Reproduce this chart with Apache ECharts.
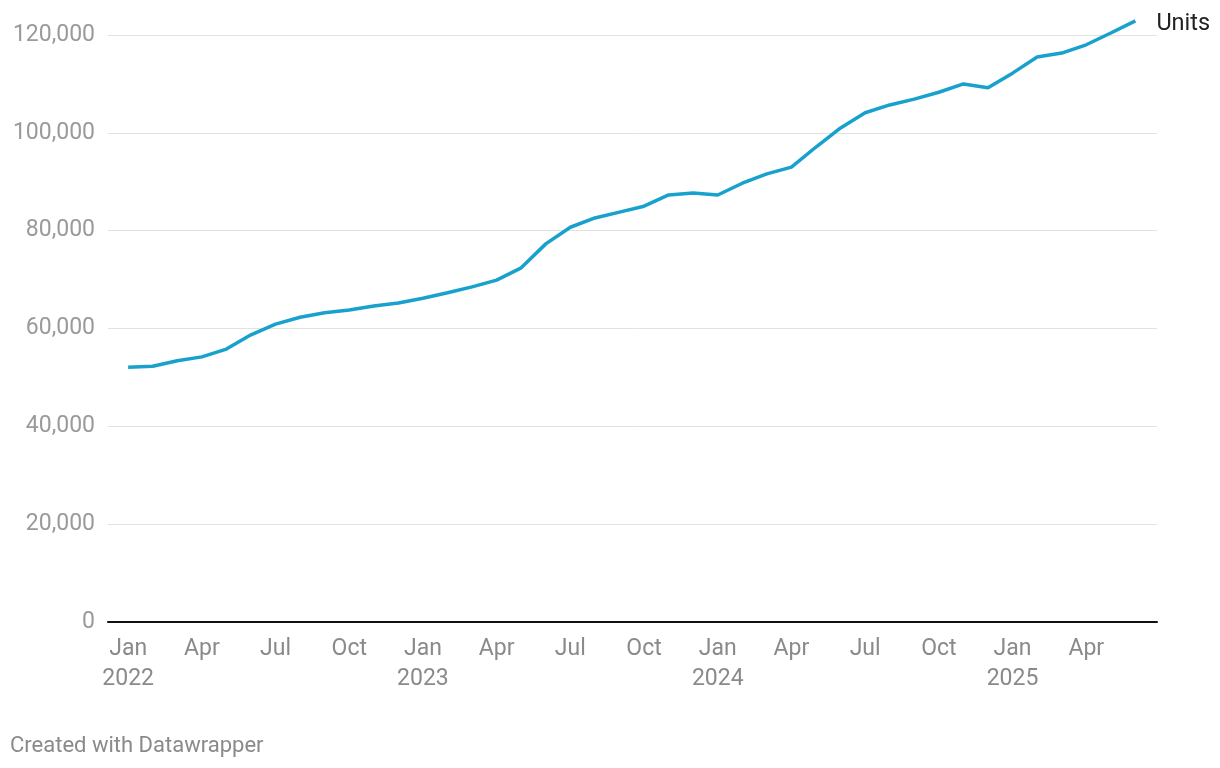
<!DOCTYPE html>
<html>
<head>
<meta charset="utf-8">
<script src="https://cdn.jsdelivr.net/npm/echarts@6/dist/echarts.min.js"></script>
<style>
html,body{margin:0;padding:0;background:#fff;}
#chart{width:1220px;height:768px;}
</style>
</head>
<body>
<div id="chart"></div>
<script>
const months = [
 'Jan 2022','Feb 2022','Mar 2022','Apr 2022','May 2022','Jun 2022','Jul 2022','Aug 2022','Sep 2022','Oct 2022','Nov 2022','Dec 2022',
 'Jan 2023','Feb 2023','Mar 2023','Apr 2023','May 2023','Jun 2023','Jul 2023','Aug 2023','Sep 2023','Oct 2023','Nov 2023','Dec 2023',
 'Jan 2024','Feb 2024','Mar 2024','Apr 2024','May 2024','Jun 2024','Jul 2024','Aug 2024','Sep 2024','Oct 2024','Nov 2024','Dec 2024',
 'Jan 2025','Feb 2025','Mar 2025','Apr 2025','May 2025','Jun 2025'
];
const units = [
 52100,52300,53400,54200,55800,58700,60900,62300,63200,63800,64600,65200,
 66200,67300,68500,69900,72400,77300,80700,82600,83800,85000,87300,87700,
 87300,89700,91600,93000,97100,101000,104100,105700,106900,108300,110000,109200,
 112200,115500,116300,118000,120400,122900
];
const xTickIndex = [0,3,6,9,12,15,18,21,24,27,30,33,36,39];
const xTickLabels = ['Jan\n2022','Apr','Jul','Oct','Jan\n2023','Apr','Jul','Oct','Jan\n2024','Apr','Jul','Oct','Jan\n2025','Apr'];
const yTicks = [0,20000,40000,60000,80000,100000,120000];
const seriesName = 'Units';

const chart = echarts.init(document.getElementById('chart'));
chart.setOption({
  animation:false,
  textStyle:{fontFamily:'Roboto'},
  grid:{left:108,right:63,top:35,bottom:146},
  xAxis:{
    type:'value',min:-0.82,max:41.88,
    axisLine:{show:true,lineStyle:{color:'#111',width:2}},
    axisTick:{show:false},
    splitLine:{show:false},
    axisLabel:{
      customValues:xTickIndex,
      formatter:function(v){const i=xTickIndex.indexOf(Math.round(v));return i>=0?xTickLabels[i]:'';},
      color:'#8a8a8a',fontSize:23,lineHeight:30,margin:12,fontFamily:'Roboto'
    }
  },
  yAxis:{
    type:'value',min:0,max:120000,interval:20000,
    axisLine:{show:false},axisTick:{show:false},
    splitLine:{lineStyle:{color:'#e2e2e2',width:1}},
    axisLabel:{
      color:'#9a9a9a',fontSize:23,margin:13,fontFamily:'Roboto',
      formatter:function(v){return v.toLocaleString('en-US');}
    }
  },
  series:[{
    name:seriesName,type:'line',
    data:units.map((v,i)=>[i,v]),
    clip:false,showSymbol:false,symbol:'none',
    lineStyle:{color:'#18a1cd',width:3.5},
    endLabel:{show:true,formatter:seriesName,color:'#222',fontSize:23.5,distance:21,offset:[0,3],fontFamily:'Roboto'},
    z:5
  }],
  graphic:[{
    type:'text',left:10,top:735,
    style:{text:'Created with Datawrapper',fill:'#8a8a8a',font:'22px Roboto'}
  }]
});
</script>
</body>
</html>
